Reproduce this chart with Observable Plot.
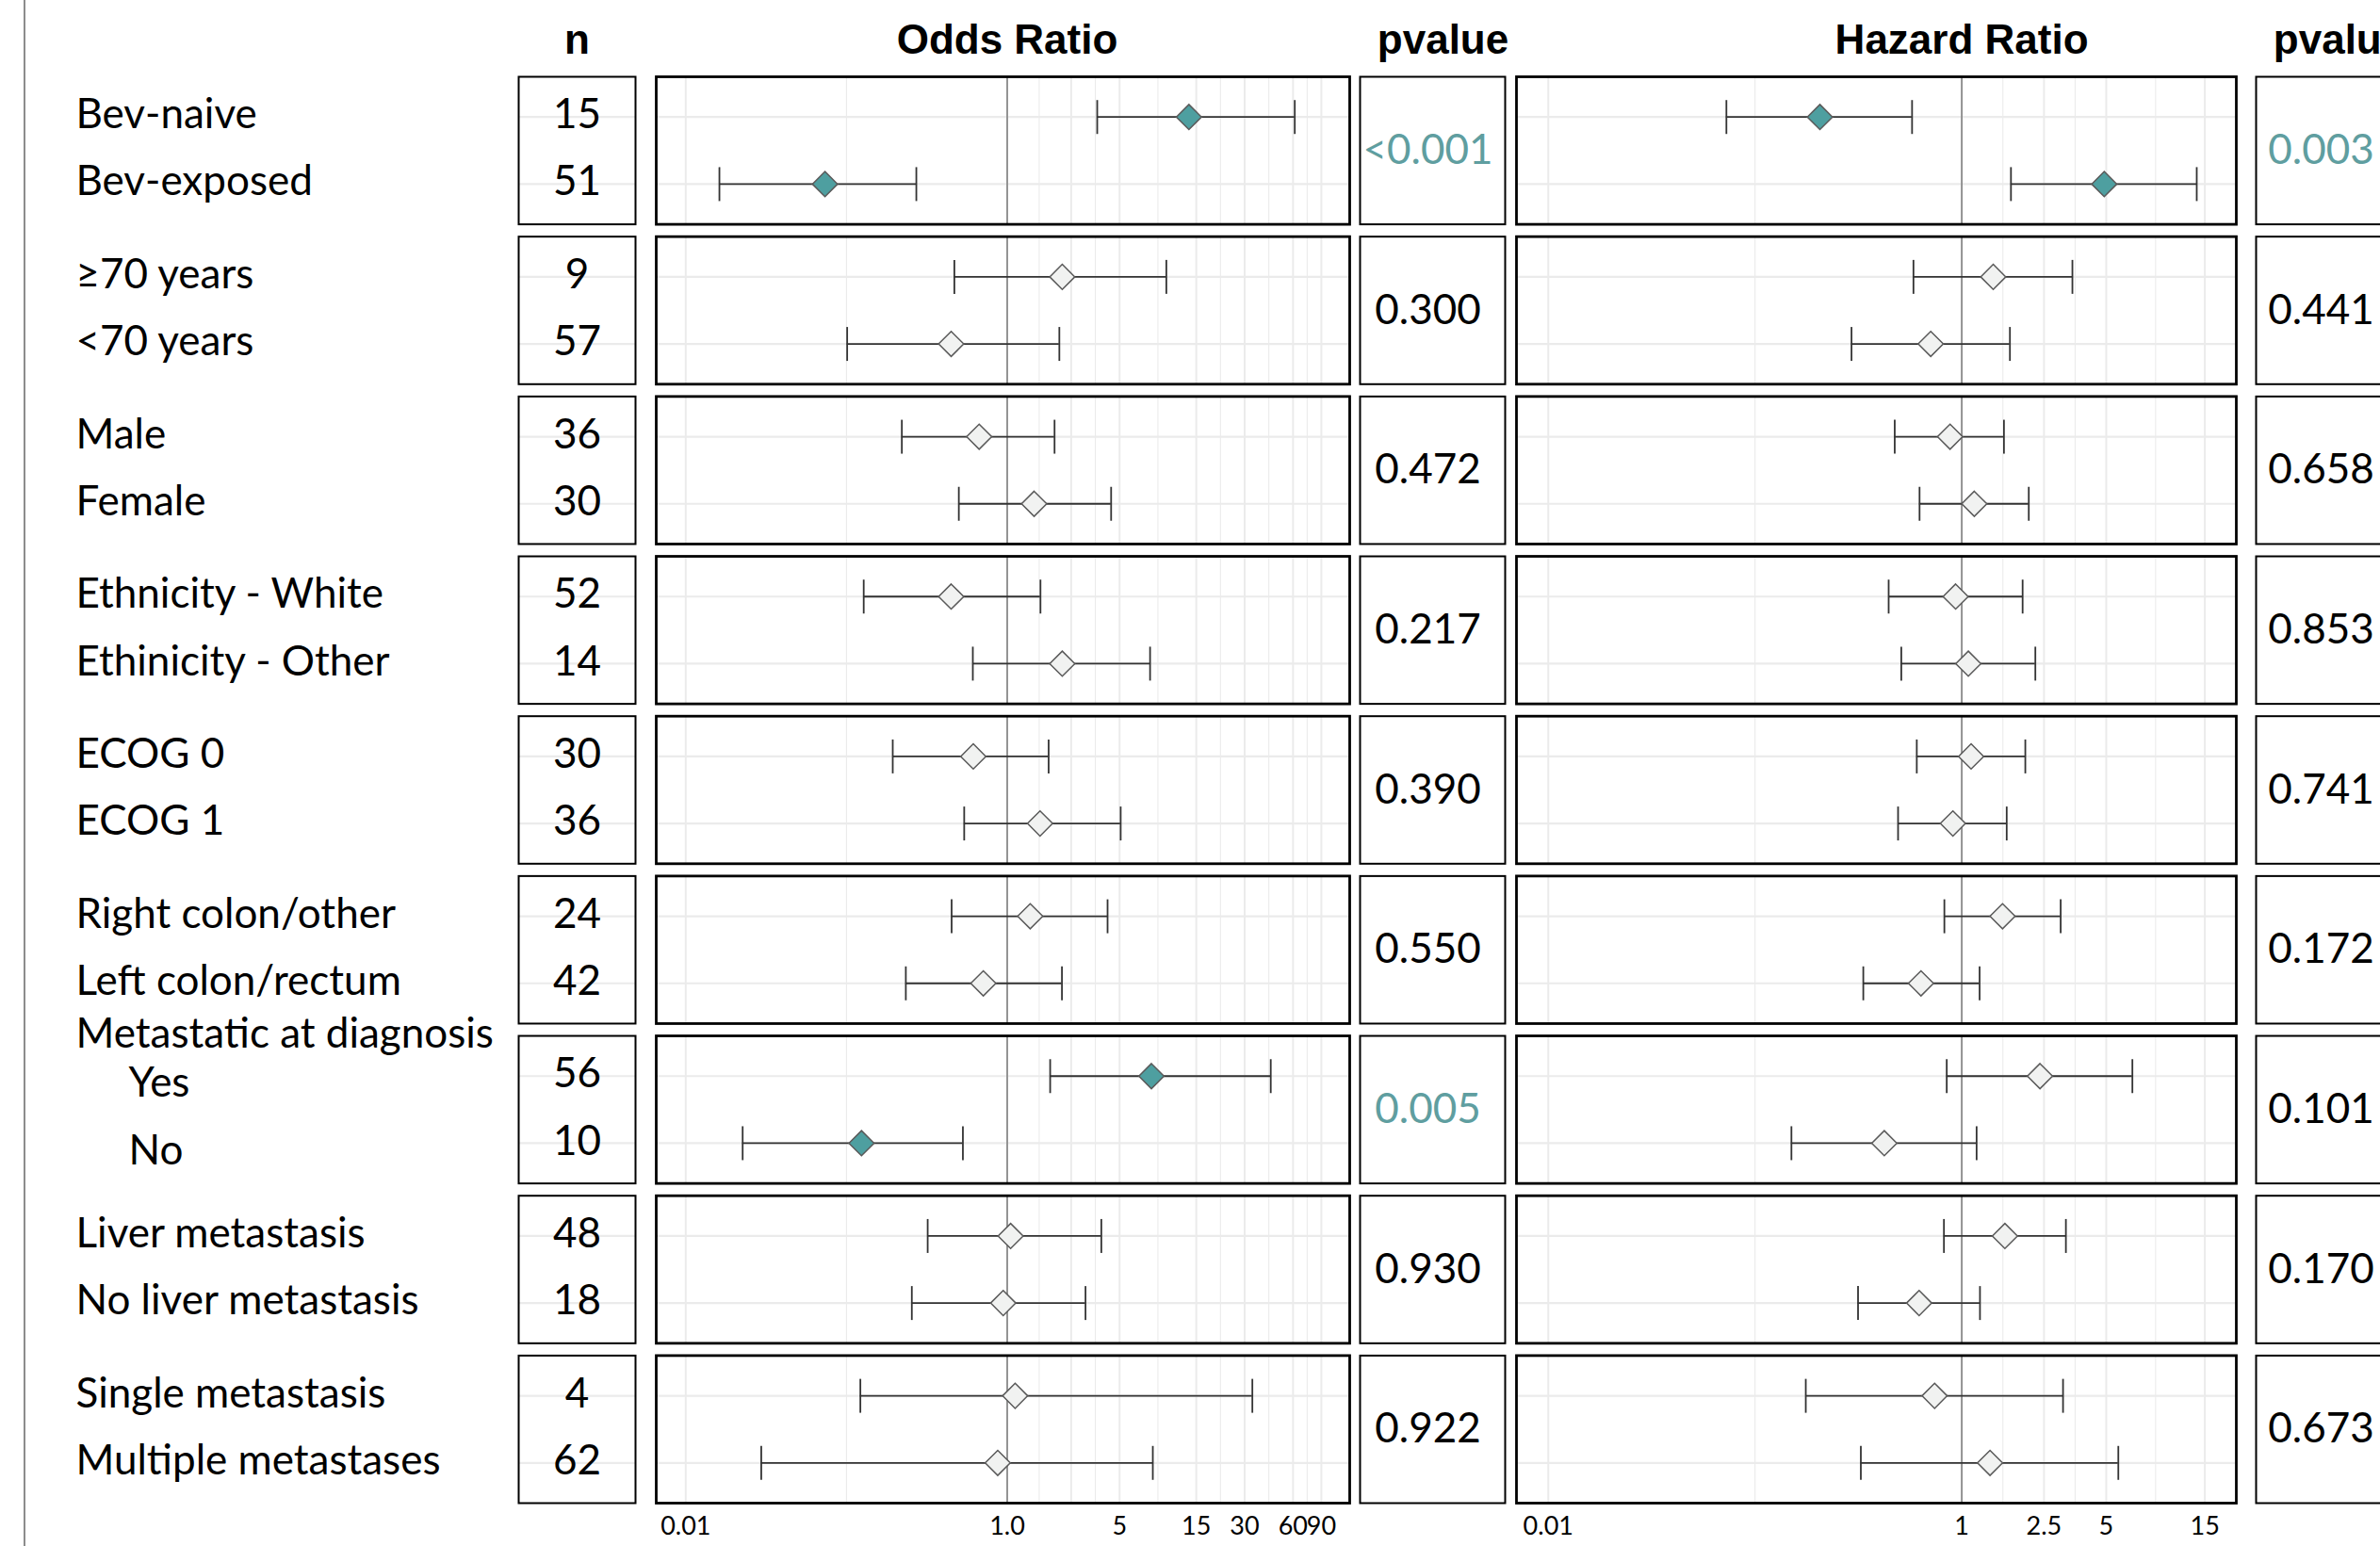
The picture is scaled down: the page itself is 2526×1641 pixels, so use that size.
<!DOCTYPE html>
<html><head><meta charset="utf-8">
<script src="https://cdn.jsdelivr.net/npm/d3@7"></script>
<script src="https://cdn.jsdelivr.net/npm/@observablehq/plot@0.6"></script>
<style>
html,body{margin:0;padding:0;background:#fff;}
#wrap{position:relative;width:2526px;height:1641px;overflow:hidden;background:#fff;}
#wrap > div.col{position:absolute;top:0;}
#wrap svg{max-width:none !important;display:block;}
#vline{position:absolute;left:25px;top:0;width:2px;height:1641px;background:#8c8c8c;}
</style></head><body><div id="wrap"><div id="vline"></div></div>
<script>
// ---------- data ----------
const groupIds = ["bev","age","sex","eth","ecog","site","metdx","liver","nmet"];
const groupHeaders = ["","","","","","","Metastatic at diagnosis","",""];
const rowLabels = ["Bev-naive","Bev-exposed","≥70 years","<70 years","Male","Female",
  "Ethnicity - White","Ethinicity - Other","ECOG 0","ECOG 1","Right colon/other","Left colon/rectum",
  "Yes","No","Liver metastasis","No liver metastasis","Single metastasis","Multiple metastases"];
const nValues = [15,51,9,57,36,30,52,14,30,36,24,42,56,10,48,18,4,62];

const orEst  = [13.5,0.0735,2.20,0.448,0.669,1.47,0.448,2.20,0.615,1.60,1.39,0.710,7.89,0.124,1.05,0.944,1.12,0.873];
const orLow  = [3.63,0.0162,0.469,0.101,0.221,0.500,0.128,0.611,0.194,0.540,0.451,0.234,1.85,0.0226,0.320,0.255,0.122,0.0295];
const orHigh = [61.5,0.272,9.77,2.11,1.97,4.43,1.61,7.74,1.81,5.08,4.21,2.19,43.6,0.530,3.85,3.07,33.5,8.05];

const hrEst  = [0.206,4.89,1.42,0.708,0.878,1.15,0.934,1.076,1.11,0.906,1.575,0.635,2.39,0.422,1.617,0.622,0.739,1.37];
const hrLow  = [0.0727,1.73,0.584,0.293,0.474,0.625,0.443,0.510,0.606,0.492,0.824,0.334,0.846,0.150,0.820,0.315,0.176,0.325];
const hrHigh = [0.575,13.7,3.43,1.71,1.60,2.11,1.97,2.27,2.03,1.65,3.01,1.22,6.69,1.18,3.19,1.225,3.09,5.72];

const pOR = ["<0.001","0.300","0.472","0.217","0.390","0.550","0.005","0.930","0.922"];
const pHR = ["0.003","0.441","0.658","0.853","0.741","0.172","0.101","0.170","0.673"];

const orTicks = [0.01,1,2.5,5,15,30,60,90];
const orTickLabels = ["0.01","1.0","","5","15","30","60","90"];
const hrTicks = [0.01,1,2.5,5,15];
const hrTickLabels = ["0.01","1","2.5","5","15"];

// ---------- styling ----------
const TEAL_FILL = "#4e9fa0", TEAL_TEXT = "#5f9ea0", OPEN_FILL = "#f1f2f1";
const TITLE_FONT = "'Liberation Sans', Arial, sans-serif";
const BODY_FONT = "Lato, 'Open Sans', sans-serif";
const isSig = p => parseFloat(p.replace("<","")) < 0.05;
const minor = t => t.slice(1).map((v,i) => Math.sqrt(v * t[i]));
// vertical whisker cap drawn as a custom symbol
const capSymbol = {draw(ctx) { ctx.moveTo(0, -18); ctx.lineTo(0, 18); }};

const rows = rowLabels.map((label, i) => {
  const g = Math.floor(i / 2);
  return {label, group: groupIds[g], row: i % 2, n: nValues[i],
    orEst: orEst[i], orLow: orLow[i], orHigh: orHigh[i],
    hrEst: hrEst[i], hrLow: hrLow[i], hrHigh: hrHigh[i],
    sigOR: isSig(pOR[g]), sigHR: isSig(pHR[g]), indent: groupHeaders[g] !== ""};
});
const groups = groupIds.map((id, g) => ({group: id, header: groupHeaders[g], pOR: pOR[g], pHR: pHR[g]}));

const H = 1641, MT = 81, MB = 46;
const common = (width, ml, mr) => ({
  width, height: H, marginTop: MT, marginBottom: MB, marginLeft: ml, marginRight: mr,
  fy: {domain: groupIds, paddingInner: 0.077, paddingOuter: 0, round: false, axis: null},
  y: {type: "point", domain: [0, 1], padding: 0.6, round: false, axis: null},
  color: {type: "identity"},
  style: {fontFamily: BODY_FONT, background: "transparent", overflow: "visible", maxWidth: "none"}
});
function place(el, left, width) {
  const d = document.createElement("div");
  d.className = "col"; d.style.left = left + "px"; d.style.width = width + "px";
  d.appendChild(el);
  document.getElementById("wrap").appendChild(d);
}
const header = (t, opts = {}) => Plot.text([t], {fy: () => groupIds[0], frameAnchor: "top", lineAnchor: "middle", dy: -39,
  fontSize: 44, fontWeight: "bold", fontFamily: TITLE_FONT, fill: "#000", ...opts});

// ---------- label column ----------
place(Plot.plot({...common(545, 80, 0), marks: [
  Plot.text(rows.filter(d => !d.indent), {y: "row", fy: "group", text: "label", frameAnchor: "left", textAnchor: "start", lineAnchor: "middle", dy: -2, fontSize: 44, fill: "#000"}),
  Plot.text(rows.filter(d => d.indent), {y: "row", fy: "group", text: "label", frameAnchor: "left", textAnchor: "start", lineAnchor: "middle", dx: 56, dy: 8, fontSize: 44, fill: "#000"}),
  Plot.text(groups.filter(d => d.header), {fy: "group", text: "header", frameAnchor: "top-left", textAnchor: "start", lineAnchor: "middle", dy: -2, fontSize: 44, fill: "#000"})
]}), 0, 545);

// ---------- n column ----------
place(Plot.plot({...common(130, 3, 3), marks: [
  Plot.ruleY([0, 1], {y: d => d, stroke: "#ebebeb", strokeWidth: 2.2}),
  Plot.frame({stroke: "#000", strokeWidth: 2}),
  Plot.text(rows, {y: "row", fy: "group", text: d => String(d.n), frameAnchor: "middle", lineAnchor: "middle", dy: -2, fontSize: 44, fill: "#000"}),
  header("n")
]}), 547, 130);

// ---------- forest columns ----------
function forest({pre, sig, ticks, tickLabels, domain, title, width, ml, mr}) {
  const data = rows.map(r => ({group: r.group, row: r.row, est: r[pre + "Est"], lo: r[pre + "Low"], hi: r[pre + "High"],
    fill: r[sig] ? TEAL_FILL : OPEN_FILL}));
  const last = groupIds[groupIds.length - 1];
  return Plot.plot({...common(width, ml, mr),
    x: {type: "log", domain, axis: null},
    marks: [
      Plot.ruleX(minor(ticks), {stroke: "#ebebeb", strokeWidth: 1.1}),
      Plot.ruleX(ticks, {stroke: "#ebebeb", strokeWidth: 2}),
      Plot.ruleY([0, 1], {y: d => d, stroke: "#ebebeb", strokeWidth: 2.2}),
      Plot.ruleX([1], {stroke: "#7f7f7f", strokeWidth: 1.6}),
      Plot.ruleY(data, {x1: "lo", x2: "hi", y: "row", fy: "group", stroke: "#333", strokeWidth: 1.8}),
      Plot.dot(data, {x: "lo", y: "row", fy: "group", symbol: capSymbol, r: 1, fill: "none", stroke: "#333", strokeWidth: 1.8}),
      Plot.dot(data, {x: "hi", y: "row", fy: "group", symbol: capSymbol, r: 1, fill: "none", stroke: "#333", strokeWidth: 1.8}),
      Plot.dot(data, {x: "est", y: "row", fy: "group", symbol: "diamond2", r: 12, fill: "fill", stroke: "#5a5a5a", strokeWidth: 1.5}),
      Plot.frame({stroke: "#000", strokeWidth: 2.8}),
      Plot.text(ticks, {x: d => d, text: (d, i) => tickLabels[i], fy: () => last, frameAnchor: "bottom", lineAnchor: "middle", dy: 25, fontSize: 27, fill: "#000"}),
      header(title, {x: () => 1})
    ]});
}

place(forest({pre: "or", sig: "sigOR", ticks: orTicks, tickLabels: orTickLabels,
  domain: [0.006554, 135.1], title: "Odds Ratio", width: 748, ml: 6, mr: 6}), 690, 748);

place(Plot.plot({...common(160, 3, 3), marks: [
  Plot.frame({stroke: "#000", strokeWidth: 2}),
  Plot.text(groups, {fy: "group", text: "pOR", fill: d => isSig(d.pOR) ? TEAL_TEXT : "#000", frameAnchor: "middle", lineAnchor: "middle", dx: -5, fontSize: 44}),
  header("pvalue", {dx: 11})
]}), 1440, 160);

place(forest({pre: "hr", sig: "sigHR", ticks: hrTicks, tickLabels: hrTickLabels,
  domain: [0.007015, 21.29], title: "Hazard Ratio", width: 774, ml: 5, mr: 5}), 1604, 774);

place(Plot.plot({...common(160, 3, 3), marks: [
  Plot.frame({stroke: "#000", strokeWidth: 2}),
  Plot.text(groups, {fy: "group", text: "pHR", fill: d => isSig(d.pHR) ? TEAL_TEXT : "#000", frameAnchor: "middle", lineAnchor: "middle", dx: -8, fontSize: 44}),
  header("pvalue", {dx: 11})
]}), 2391, 160);
</script></body></html>
